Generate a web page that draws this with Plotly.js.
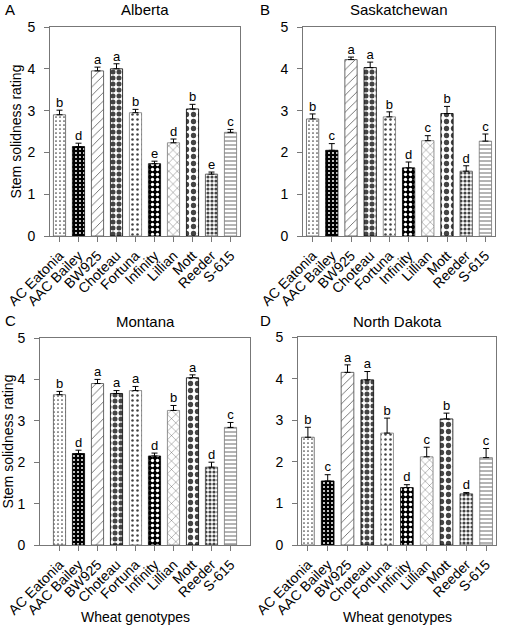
<!DOCTYPE html>
<html><head><meta charset="utf-8">
<script src="https://cdn.plot.ly/plotly-3.0.1.min.js"></script>
<style>html,body{margin:0;padding:0;background:#fff}#chart{width:510px;height:628px}</style>
</head><body><div id="chart"></div>
<script>
const genotypes = ["AC Eatonia","AAC Bailey","BW925","Choteau","Fortuna","Infinity","Lillian","Mott","Reeder","S-615"];
const regions = ["Alberta","Saskatchewan","Montana","North Dakota"];
const panelLetters = ["A","B","C","D"];

const albertaMean = [2.90,2.14,3.95,4.00,2.95,1.73,2.23,3.04,1.48,2.48];
const albertaErr  = [0.11,0.08,0.09,0.12,0.08,0.06,0.09,0.11,0.05,0.07];
const albertaSig  = ["b","d","a","a","b","e","d","b","e","c"];

const saskMean = [2.80,2.05,4.22,4.03,2.85,1.63,2.28,2.93,1.55,2.27];
const saskErr  = [0.12,0.16,0.06,0.13,0.12,0.14,0.12,0.17,0.13,0.17];
const saskSig  = ["b","c","a","a","b","d","c","b","d","c"];

const montanaMean = [3.63,2.21,3.90,3.66,3.73,2.15,3.25,4.04,1.88,2.84];
const montanaErr  = [0.08,0.08,0.10,0.07,0.10,0.07,0.12,0.07,0.12,0.12];
const montanaSig  = ["b","d","a","a","a","d","b","a","d","c"];

const ndMean = [2.59,1.54,4.15,3.97,2.69,1.38,2.12,3.03,1.23,2.10];
const ndErr  = [0.24,0.15,0.18,0.20,0.36,0.07,0.23,0.14,0.03,0.22];
const ndSig  = ["b","c","a","a","b","d","c","b","d","c"];

const yTicks = [0,1,2,3,4,5];
const xAxisTitle = "Wheat genotypes";
const yAxisTitle = "Stem solidness rating";

const means = [albertaMean, saskMean, montanaMean, ndMean];
const errs = [albertaErr, saskErr, montanaErr, ndErr];
const sigs = [albertaSig, saskSig, montanaSig, ndSig];

// pattern style per genotype
const patShape = [".", ".", "/", ".", ".", ".", "x", ".", ".", "-"];
const patBg    = ["#fff","#000","#fff","#fff","#fff","#000","#fff","#fff","#fff","#fff"];
const patFg    = ["#666","#fff","#333","#000","#999","#fff","#888","#000","#333","#888"];
const patSize  = [4,4,6,6,5,5,6,7,4,4];
const patSol   = [0.15,0.2,0.12,0.55,0.2,0.35,0.12,0.45,0.5,0.2];
const edgeCol  = ["#555","#000","#444","#000","#777","#000","#777","#000","#444","#777"];

const W = 510, H = 628;
// pixel geometry of each panel: [left, right, yZeroPx, yFivePx]
const geo = [[50,240,236,27],[303,495,236,27],[40,250,545,338],[298,496,545,337]];
const FONT = "Liberation Sans, Arial, sans-serif";

const traces = [];
const layout = {
  width: W, height: H, margin:{l:0,r:0,t:0,b:0},
  paper_bgcolor:"#fff", plot_bgcolor:"#fff", showlegend:false,
  font:{family:FONT, color:"#000"},
  annotations:[]
};

for (let p=0;p<4;p++){
  const [l,r,y0,y5] = geo[p];
  const sfx = p===0 ? "" : String(p+1);
  const xa = "x"+sfx, ya = "y"+sfx;
  const catW = (p===2) ? 19 : (r-l)/10;
  const baseL = (p===2) ? 50 : l;
  const xr = [(l-baseL)/catW-0.5, (r-baseL)/catW-0.5];
  traces.push({
    type:"bar", x:genotypes, y:means[p], xaxis:xa, yaxis:ya, width:0.64,
    marker:{color:patBg, line:{color:edgeCol, width:0.8},
      pattern:{shape:patShape, bgcolor:patBg, fgcolor:patFg, size:patSize, solidity:patSol,
        fillmode:"overlay", fgopacity:1}},
    error_y:{type:"data", array:errs[p], arrayminus:genotypes.map(()=>0), symmetric:false,
      color:"#000", thickness:1, width:3},
    hoverinfo:"x+y"
  });
  traces.push({
    type:"scatter", mode:"text", x:genotypes, y:means[p].map((v,i)=>v+errs[p][i]),
    text:sigs[p], textposition:"top center",
    textfont:{size:13, family:FONT, color:genotypes.map(()=>"#000000")},
    marker:{color:"#000"},
    xaxis:xa, yaxis:ya, hoverinfo:"skip", cliponaxis:false
  });
  layout["xaxis"+sfx] = {
    domain:[l/W, r/W], anchor:ya, type:"category", range:xr,
    showline:true, mirror:true, linecolor:"#777", linewidth:1,
    ticks:"outside", ticklen:5, tickcolor:"#777", tickangle:-45,
    tickfont:{size:14, family:FONT, color:"#000"}, showgrid:false, zeroline:false
  };
  layout["yaxis"+sfx] = {
    domain:[1-y0/H, 1-y5/H], anchor:xa, range:[0,5], tickvals:yTicks,
    showline:true, mirror:true, linecolor:"#777", linewidth:1,
    ticks:"outside", ticklen:5, tickcolor:"#777", ticklabelstandoff:6,
    tickfont:{size:14, family:FONT, color:"#000"}, showgrid:false, zeroline:false,
    title: (p===0||p===2) ? {text:yAxisTitle, font:{size:14, family:FONT}, standoff:2} : {text:""}
  };
  if (p>=2) {
    layout.annotations.push({text:xAxisTitle, xref:"paper", yref:"paper",
      x:((l+r)/2+ (p===2?-10:0))/W, y:1-617/H, xanchor:"center", yanchor:"middle", showarrow:false,
      font:{size:14, family:FONT}});
  }
  layout.annotations.push({text:regions[p], xref:"paper", yref:"paper",
    x:((l+r)/2)/W, y:1-(p<2?9:321)/H, xanchor:"center", yanchor:"middle", showarrow:false,
    font:{size:15, family:FONT}});
  layout.annotations.push({text:panelLetters[p], xref:"paper", yref:"paper",
    x:(p%2===0?3:258)/W, y:1-(p<2?9:320)/H, xanchor:"left", yanchor:"middle", showarrow:false,
    font:{size:15, family:FONT}});
}

Plotly.newPlot("chart", traces, layout, {staticPlot:true, displayModeBar:false});
</script></body></html>
